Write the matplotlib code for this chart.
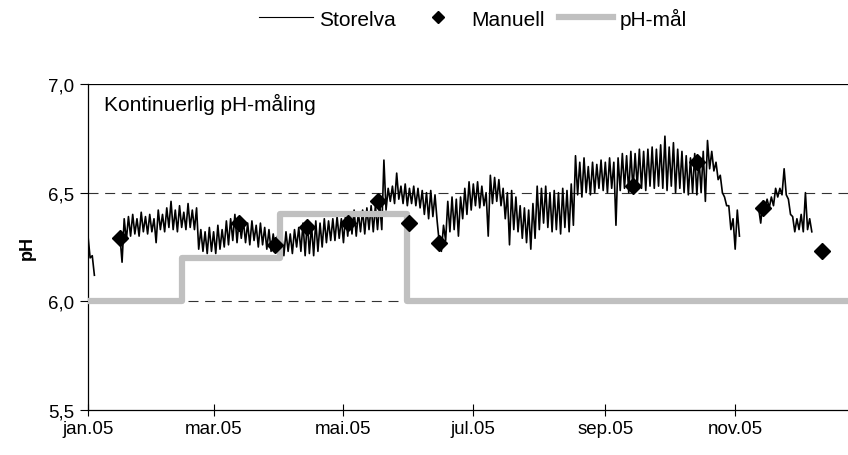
import numpy as np
import matplotlib.pyplot as plt
from matplotlib.lines import Line2D

plt.rcParams['font.family'] = ['Liberation Sans', 'DejaVu Sans']

# Storelva, kontinuerlig maaling. Annenhver dag: topp og bunn (lest av figuren)
periode1_start = '2005-01-01'
periode1_topp = [6.30, 6.21]
periode1_bunn = [6.20, 6.12]

periode2_start = '2005-01-16'
periode2_topp = [
    6.30, 6.38, 6.39, 6.40, 6.38, 6.41, 6.39, 6.40, 6.38, 6.42,
    6.40, 6.43, 6.46, 6.42, 6.44, 6.41, 6.45, 6.42, 6.43, 6.33,
    6.32, 6.34, 6.32, 6.35, 6.33, 6.37, 6.38, 6.40, 6.38, 6.37,
    6.36, 6.37, 6.35, 6.36, 6.34, 6.33, 6.31, 6.30, 6.30, 6.32,
    6.31, 6.33, 6.34, 6.36, 6.37, 6.35, 6.37, 6.36, 6.38, 6.37,
    6.38, 6.39, 6.38, 6.40, 6.41, 6.42, 6.41, 6.42, 6.43, 6.44,
    6.44, 6.45, 6.65, 6.52, 6.53, 6.59, 6.53, 6.54, 6.52, 6.53,
    6.52, 6.51, 6.50, 6.51, 6.49, 6.27, 6.35, 6.46, 6.48, 6.47,
    6.48, 6.52, 6.55, 6.54, 6.55, 6.53, 6.50, 6.58, 6.57, 6.56,
    6.52, 6.50, 6.51, 6.48, 6.44, 6.43, 6.42, 6.45, 6.53, 6.52,
    6.53, 6.50, 6.51, 6.50, 6.52, 6.51, 6.54, 6.67, 6.64, 6.66,
    6.62, 6.64, 6.63, 6.65, 6.64, 6.66, 6.64, 6.66, 6.68, 6.67,
    6.69, 6.68, 6.70, 6.69, 6.70, 6.71, 6.70, 6.72, 6.76, 6.71,
    6.73, 6.70, 6.69, 6.67, 6.66, 6.68, 6.66, 6.69, 6.74, 6.69,
    6.64, 6.58, 6.48, 6.44, 6.38, 6.42]
periode2_bunn = [
    6.18, 6.28, 6.30, 6.31, 6.30, 6.32, 6.31, 6.32, 6.27, 6.33,
    6.32, 6.34, 6.33, 6.32, 6.34, 6.33, 6.34, 6.33, 6.24, 6.23,
    6.22, 6.23, 6.22, 6.24, 6.25, 6.26, 6.28, 6.27, 6.29, 6.27,
    6.26, 6.28, 6.25, 6.26, 6.24, 6.23, 6.24, 6.22, 6.21, 6.23,
    6.22, 6.25, 6.23, 6.21, 6.22, 6.21, 6.23, 6.25, 6.27, 6.28,
    6.28, 6.29, 6.27, 6.30, 6.31, 6.30, 6.32, 6.31, 6.33, 6.32,
    6.33, 6.33, 6.42, 6.46, 6.45, 6.47, 6.45, 6.44, 6.45, 6.44,
    6.43, 6.40, 6.38, 6.39, 6.37, 6.23, 6.28, 6.32, 6.33, 6.30,
    6.38, 6.40, 6.42, 6.44, 6.43, 6.44, 6.30, 6.45, 6.46, 6.44,
    6.38, 6.26, 6.33, 6.32, 6.29, 6.27, 6.24, 6.29, 6.33, 6.36,
    6.34, 6.32, 6.33, 6.31, 6.34, 6.32, 6.35, 6.49, 6.48, 6.50,
    6.49, 6.50, 6.52, 6.51, 6.50, 6.52, 6.35, 6.51, 6.52, 6.50,
    6.51, 6.53, 6.52, 6.51, 6.53, 6.52, 6.53, 6.52, 6.51, 6.53,
    6.50, 6.52, 6.50, 6.49, 6.50, 6.49, 6.50, 6.46, 6.61, 6.60,
    6.56, 6.50, 6.44, 6.33, 6.24, 6.30]

periode3_start = '2005-11-12'
periode3_topp = [6.43, 6.46, 6.47, 6.48, 6.52, 6.52, 6.61, 6.47, 6.39, 6.38, 6.40, 6.50, 6.38]
periode3_bunn = [6.36, 6.43, 6.43, 6.44, 6.48, 6.49, 6.49, 6.40, 6.32, 6.33, 6.32, 6.33, 6.32]

# manuelle maalinger
manuell_dato = ['2005-01-16', '2005-03-13', '2005-03-30', '2005-04-14', '2005-05-03',
                '2005-05-17', '2005-06-01', '2005-06-15', '2005-09-14', '2005-10-14',
                '2005-11-14', '2005-12-12']
manuell_ph = [6.29, 6.36, 6.26, 6.34, 6.36, 6.46, 6.36, 6.27, 6.53, 6.64, 6.43, 6.23]

# pH-maal
maal_dato = ['2005-01-01', '2005-02-14', '2005-04-01', '2005-05-31', '2006-01-01']
maal_ph = [6.0, 6.2, 6.4, 6.0, 6.0]

tick_dato = ['2005-01-01', '2005-03-01', '2005-05-01', '2005-07-01', '2005-09-01', '2005-11-01']
tick_tekst = ['jan.05', 'mar.05', 'mai.05', 'jul.05', 'sep.05', 'nov.05']
y_ticks = [5.5, 6.0, 6.5, 7.0]
y_tekst = ['5,5', '6,0', '6,5', '7,0']


def periode(start, topp, bunn):
    verdier = np.column_stack((topp, bunn)).ravel()
    dager = np.datetime64(start) + np.arange(len(verdier)).astype('timedelta64[D]')
    return dager, verdier


fig = plt.figure(figsize=(8.48, 4.56), dpi=100)
ax = fig.add_axes([88 / 848, 1 - 411 / 456, 760 / 848, 326 / 456])

for y in [6.0, 6.5]:
    ax.axhline(y, color='#333333', linestyle=(0, (9, 6)), linewidth=0.8, zorder=1)
ax.axhline(7.0, color='black', linewidth=0.9, zorder=1)

for start, topp, bunn in [(periode1_start, periode1_topp, periode1_bunn),
                          (periode2_start, periode2_topp, periode2_bunn),
                          (periode3_start, periode3_topp, periode3_bunn)]:
    d, v = periode(start, topp, bunn)
    ax.plot(d, v, color='black', linewidth=1.2, zorder=2)

ax.plot(np.array(maal_dato, dtype='datetime64[D]'), maal_ph, drawstyle='steps-post',
        color='#c0c0c0', linewidth=4.5, solid_joinstyle='round', zorder=3)
ax.plot(np.array(manuell_dato, dtype='datetime64[D]'), manuell_ph, linestyle='none',
        marker='D', markersize=8, color='black', zorder=4)

ax.set_xlim(np.datetime64('2005-01-01'), np.datetime64('2005-12-24'))
ax.set_ylim(5.5, 7.0)
ax.set_xticks(np.array(tick_dato, dtype='datetime64[D]'))
ax.set_xticklabels(tick_tekst)
ax.set_yticks(y_ticks)
ax.set_yticklabels(y_tekst)
ax.tick_params(axis='x', direction='inout', length=8, width=0.8, labelsize=13.5, pad=3)
ax.tick_params(axis='y', direction='out', length=6, width=0.8, labelsize=13.5, pad=4)
for s in ['top', 'right']:
    ax.spines[s].set_visible(False)
for s in ['left', 'bottom']:
    ax.spines[s].set_linewidth(0.9)
ax.set_ylabel('pH', fontsize=13, fontweight='bold', labelpad=9)

ax.text(0.021, 0.94, 'Kontinuerlig pH-måling', transform=ax.transAxes,
        fontsize=15, va='center', ha='left')

handles = [Line2D([], [], color='black', linewidth=0.8),
           Line2D([], [], color='black', marker='D', markersize=6.5, linestyle='none'),
           Line2D([], [], color='#c0c0c0', linewidth=4.5)]
fig.legend(handles, ['Storelva', 'Manuell', 'pH-mål'], loc='center',
           bbox_to_anchor=(473 / 848, 1 - 19 / 456), ncol=3, frameon=False,
           fontsize=15, handlelength=2.6, columnspacing=0.7, handletextpad=0.3)

fig.savefig('out.png', dpi=100)
